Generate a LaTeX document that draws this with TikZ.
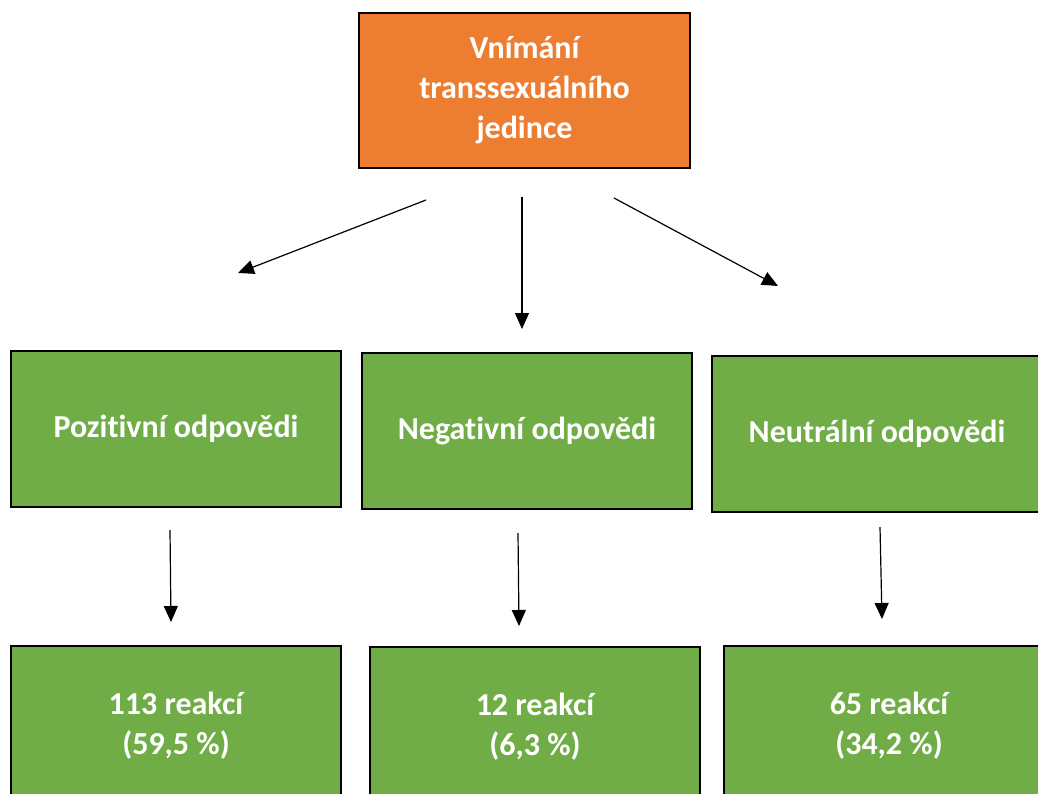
\documentclass[tikz,border=0pt]{standalone}
\usepackage{fontspec}
\setmainfont{Carlito}[Ligatures=NoCommon]
\usetikzlibrary{arrows.meta}
\definecolor{boxorange}{HTML}{ED7D31}
\definecolor{boxgreen}{HTML}{70AD47}
\tikzset{
  box/.style={draw=black, line width=2pt, anchor=north west, inner sep=0pt,
    text=white, font=\bfseries\fontsize{32}{40}\selectfont, align=center},
  topbox/.style={box, fill=boxorange, minimum width=331pt, minimum height=155pt},
  midbox/.style={box, fill=boxgreen, minimum width=330pt, minimum height=156pt},
  lowbox/.style={box, fill=boxgreen, minimum width=330pt, minimum height=160pt},
  link/.style={line width=1.2pt, -{Triangle[length=16pt,width=14pt]}}
}
\begin{document}
\begin{tikzpicture}[x=1pt,y=-1pt]
  \useasboundingbox (0,0) rectangle (1038,794);

  % root
  \node[topbox] (root) at (358,12) {Vnímání\\transsexuálního\\jedince};

  % categories
  \node[midbox] (pos) at (10,350) {Pozitivní odpovědi};
  \node[midbox] (neg) at (361,352) {Negativní odpovědi};
  \node[midbox] (neu) at (711,355) {Neutrální odpovědi};

  % counts
  \node[lowbox] (cpos) at (10,645) {113 reakcí\\(59,5 \%)};
  \node[lowbox] (cneg) at (369,646) {12 reakcí\\(6,3 \%)};
  \node[lowbox] (cneu) at (723,645) {65 reakcí\\(34,2 \%)};

  % arrow ends
  \coordinate (a1s) at (426,200);  \coordinate (a1e) at (238,273);
  \coordinate (a2s) at (522,197);  \coordinate (a2e) at (522,329);
  \coordinate (a3s) at (614,198);  \coordinate (a3e) at (778,286);
  \coordinate (b1s) at (170,530);  \coordinate (b1e) at (171,622);
  \coordinate (b2s) at (518,533);  \coordinate (b2e) at (519,626);
  \coordinate (b3s) at (880,527);  \coordinate (b3e) at (882,619);

  \draw[link] (a1s) -- (a1e);
  \draw[link] (a2s) -- (a2e);
  \draw[link] (a3s) -- (a3e);
  \draw[link] (b1s) -- (b1e);
  \draw[link] (b2s) -- (b2e);
  \draw[link] (b3s) -- (b3e);
\end{tikzpicture}
\end{document}
